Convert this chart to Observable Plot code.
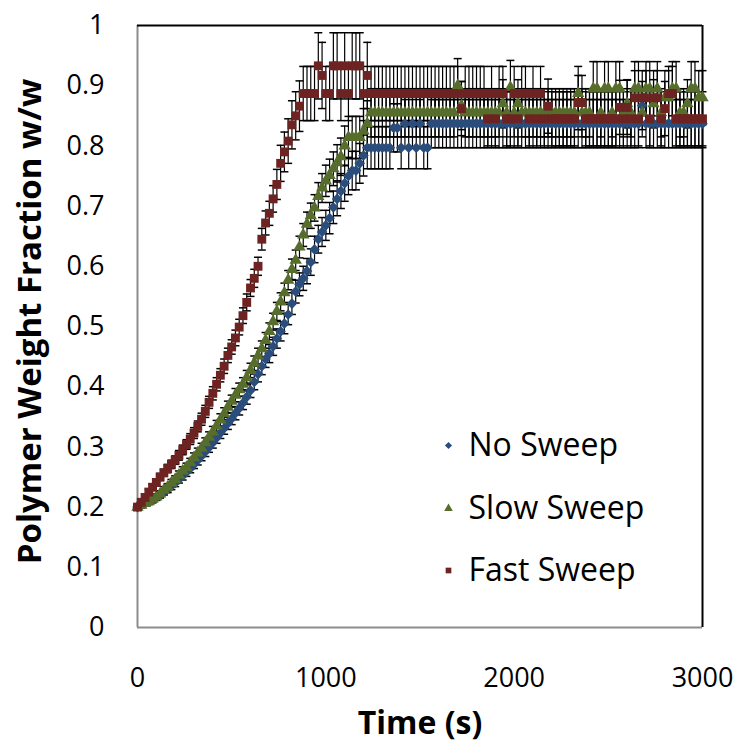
<!DOCTYPE html>
<html>
<head>
<meta charset="utf-8">
<script src="https://cdn.jsdelivr.net/npm/d3@7"></script>
<script src="https://cdn.jsdelivr.net/npm/@observablehq/plot@0.6"></script>
<style>
  html, body { margin: 0; padding: 0; background: #fff; }
  #chart svg { display: block; }
</style>
</head>
<body>
<div id="chart"></div>
<script>
const seriesNames = ["No Sweep", "Slow Sweep", "Fast Sweep"];
const seriesColors = ["#2a4d7c", "#566d2b", "#6d2321"];
const seriesSymbols = ["diamond2", "triangle", "square"];

const xTicks = [0, 1000, 2000, 3000];
const xTickLabels = ["0", "1000", "2000", "3000"];
const yTicks = [0, 0.1, 0.2, 0.3, 0.4, 0.5, 0.6, 0.7, 0.8, 0.9, 1];
const yTickLabels = ["0", "0.1", "0.2", "0.3", "0.4", "0.5", "0.6", "0.7", "0.8", "0.9", "1"];

const time = [
  0, 20, 40, 60, 80, 100, 120, 140, 160, 180,
  200, 220, 240, 260, 280, 300, 320, 340, 360, 380,
  400, 420, 440, 460, 480, 500, 520, 540, 560, 580,
  600, 620, 640, 660, 680, 700, 720, 740, 760, 780,
  800, 820, 840, 860, 880, 900, 920, 940, 960, 980,
  1000, 1020, 1040, 1060, 1080, 1100, 1120, 1140, 1160, 1180,
  1200, 1220, 1240, 1260, 1280, 1300, 1320, 1340, 1360, 1380,
  1400, 1420, 1440, 1460, 1480, 1500, 1520, 1540, 1560, 1580,
  1600, 1620, 1640, 1660, 1680, 1700, 1720, 1740, 1760, 1780,
  1800, 1820, 1840, 1860, 1880, 1900, 1920, 1940, 1960, 1980,
  2000, 2020, 2040, 2060, 2080, 2100, 2120, 2140, 2160, 2180,
  2200, 2220, 2240, 2260, 2280, 2300, 2320, 2340, 2360, 2380,
  2400, 2420, 2440, 2460, 2480, 2500, 2520, 2540, 2560, 2580,
  2600, 2620, 2640, 2660, 2680, 2700, 2720, 2740, 2760, 2780,
  2800, 2820, 2840, 2860, 2880, 2900, 2920, 2940, 2960, 2980,
  3000
];

const noSweep = [
  0.200, 0.203, 0.206, 0.209, 0.212, 0.216, 0.220, 0.225, 0.230, 0.235,
  0.240, 0.246, 0.252, 0.258, 0.264, 0.271, 0.278, 0.285, 0.292, 0.299,
  0.307, 0.315, 0.323, 0.331, 0.339, 0.347, 0.356, 0.364, 0.373, 0.383,
  0.394, 0.408, 0.421, 0.434, 0.446, 0.455, 0.467, 0.480, 0.492, 0.505,
  0.520, 0.538, 0.558, 0.570, 0.580, 0.592, 0.607, 0.628, 0.645, 0.657,
  0.668, 0.680, 0.698, 0.712, 0.725, 0.738, 0.750, 0.759, 0.759, 0.771,
  0.784, 0.797, 0.797, 0.797, 0.797, 0.797, 0.797, 0.797, 0.830, 0.830,
  0.797, 0.837, 0.797, 0.837, 0.797, 0.837, 0.797, 0.797, 0.837, 0.837,
  0.837, 0.837, 0.837, 0.837, 0.837, 0.837, 0.837, 0.837, 0.837, 0.837,
  0.837, 0.837, 0.837, 0.837, 0.837, 0.837, 0.837, 0.837, 0.837, 0.837,
  0.837, 0.837, 0.837, 0.837, 0.837, 0.837, 0.837, 0.837, 0.837, 0.837,
  0.837, 0.837, 0.837, 0.837, 0.837, 0.837, 0.837, 0.837, 0.837, 0.837,
  0.837, 0.837, 0.837, 0.837, 0.837, 0.837, 0.837, 0.837, 0.837, 0.837,
  0.837, 0.837, 0.837, 0.837, 0.867, 0.837, 0.837, 0.837, 0.837, 0.837,
  0.837, 0.837, 0.837, 0.837, 0.837, 0.837, 0.837, 0.837, 0.837, 0.837,
  0.837
];
const noSweepErr = [
  0.004, 0.004, 0.004, 0.004, 0.005, 0.005, 0.005, 0.005, 0.006, 0.006,
  0.006, 0.006, 0.007, 0.007, 0.007, 0.007, 0.008, 0.008, 0.008, 0.008,
  0.009, 0.009, 0.009, 0.010, 0.010, 0.010, 0.011, 0.011, 0.011, 0.012,
  0.012, 0.013, 0.013, 0.014, 0.014, 0.015, 0.015, 0.016, 0.016, 0.017,
  0.017, 0.018, 0.019, 0.019, 0.020, 0.021, 0.022, 0.022, 0.023, 0.024,
  0.025, 0.026, 0.027, 0.028, 0.029, 0.030, 0.031, 0.032, 0.032, 0.033,
  0.034, 0.035, 0.035, 0.035, 0.035, 0.035, 0.035, 0.035, 0.040, 0.040,
  0.035, 0.040, 0.035, 0.040, 0.035, 0.040, 0.035, 0.035, 0.040, 0.040,
  0.040, 0.040, 0.040, 0.040, 0.040, 0.040, 0.040, 0.040, 0.040, 0.040,
  0.040, 0.040, 0.040, 0.040, 0.040, 0.040, 0.040, 0.040, 0.040, 0.040,
  0.040, 0.040, 0.040, 0.040, 0.040, 0.040, 0.040, 0.040, 0.040, 0.040,
  0.040, 0.040, 0.040, 0.040, 0.040, 0.040, 0.040, 0.040, 0.040, 0.040,
  0.040, 0.040, 0.040, 0.040, 0.040, 0.040, 0.040, 0.040, 0.040, 0.040,
  0.040, 0.040, 0.040, 0.040, 0.040, 0.040, 0.040, 0.040, 0.040, 0.040,
  0.040, 0.040, 0.040, 0.040, 0.040, 0.040, 0.040, 0.040, 0.040, 0.040,
  0.040
];

const slowSweep = [
  0.200, 0.203, 0.206, 0.209, 0.213, 0.217, 0.222, 0.228, 0.233, 0.240,
  0.246, 0.253, 0.260, 0.266, 0.274, 0.282, 0.290, 0.298, 0.307, 0.316,
  0.325, 0.335, 0.345, 0.355, 0.366, 0.376, 0.386, 0.395, 0.404, 0.415,
  0.427, 0.439, 0.451, 0.463, 0.477, 0.492, 0.508, 0.525, 0.541, 0.556,
  0.577, 0.595, 0.610, 0.632, 0.652, 0.670, 0.684, 0.697, 0.716, 0.730,
  0.742, 0.751, 0.762, 0.772, 0.782, 0.800, 0.814, 0.814, 0.814, 0.814,
  0.825, 0.837, 0.855, 0.855, 0.855, 0.855, 0.855, 0.855, 0.855, 0.855,
  0.855, 0.855, 0.855, 0.855, 0.855, 0.855, 0.855, 0.855, 0.855, 0.855,
  0.855, 0.855, 0.855, 0.855, 0.855, 0.900, 0.867, 0.855, 0.855, 0.855,
  0.855, 0.855, 0.855, 0.855, 0.855, 0.855, 0.855, 0.870, 0.855, 0.897,
  0.855, 0.870, 0.855, 0.855, 0.855, 0.855, 0.855, 0.855, 0.855, 0.855,
  0.855, 0.855, 0.855, 0.855, 0.855, 0.855, 0.855, 0.887, 0.855, 0.855,
  0.855, 0.895, 0.895, 0.855, 0.895, 0.895, 0.855, 0.895, 0.895, 0.855,
  0.870, 0.855, 0.895, 0.895, 0.855, 0.895, 0.895, 0.870, 0.895, 0.855,
  0.880, 0.880, 0.895, 0.895, 0.855, 0.855, 0.870, 0.895, 0.895, 0.880,
  0.880
];
const slowSweepErr = [
  0.004, 0.004, 0.004, 0.005, 0.005, 0.005, 0.005, 0.006, 0.006, 0.006,
  0.006, 0.007, 0.007, 0.007, 0.007, 0.008, 0.008, 0.008, 0.008, 0.009,
  0.009, 0.009, 0.010, 0.010, 0.010, 0.010, 0.011, 0.011, 0.011, 0.012,
  0.012, 0.012, 0.013, 0.013, 0.013, 0.014, 0.014, 0.015, 0.015, 0.016,
  0.016, 0.017, 0.017, 0.018, 0.019, 0.020, 0.021, 0.022, 0.023, 0.024,
  0.026, 0.027, 0.028, 0.030, 0.031, 0.033, 0.035, 0.035, 0.035, 0.035,
  0.037, 0.038, 0.040, 0.040, 0.040, 0.040, 0.040, 0.040, 0.040, 0.040,
  0.040, 0.040, 0.040, 0.040, 0.040, 0.040, 0.040, 0.040, 0.040, 0.040,
  0.040, 0.040, 0.040, 0.040, 0.040, 0.045, 0.040, 0.040, 0.040, 0.040,
  0.040, 0.040, 0.040, 0.040, 0.040, 0.040, 0.040, 0.040, 0.040, 0.045,
  0.040, 0.040, 0.040, 0.040, 0.040, 0.040, 0.040, 0.040, 0.040, 0.040,
  0.040, 0.040, 0.040, 0.040, 0.040, 0.040, 0.040, 0.045, 0.040, 0.040,
  0.040, 0.045, 0.045, 0.040, 0.045, 0.045, 0.040, 0.045, 0.045, 0.040,
  0.040, 0.040, 0.045, 0.045, 0.040, 0.045, 0.045, 0.040, 0.045, 0.040,
  0.045, 0.045, 0.045, 0.045, 0.040, 0.040, 0.040, 0.045, 0.045, 0.045,
  0.045
];

const fastSweep = [
  0.200, 0.208, 0.216, 0.225, 0.233, 0.241, 0.250, 0.257, 0.264, 0.271,
  0.278, 0.286, 0.295, 0.304, 0.313, 0.323, 0.334, 0.346, 0.359, 0.374,
  0.389, 0.404, 0.419, 0.434, 0.452, 0.466, 0.481, 0.499, 0.518, 0.540,
  0.564, 0.580, 0.600, 0.645, 0.672, 0.688, 0.712, 0.736, 0.771, 0.790,
  0.808, 0.835, 0.850, 0.866, 0.887, 0.887, 0.887, 0.887, 0.933, 0.917,
  0.887, 0.887, 0.933, 0.933, 0.887, 0.933, 0.887, 0.933, 0.933, 0.933,
  0.887, 0.917, 0.887, 0.887, 0.887, 0.887, 0.887, 0.887, 0.887, 0.887,
  0.887, 0.887, 0.887, 0.887, 0.887, 0.887, 0.887, 0.887, 0.887, 0.887,
  0.887, 0.887, 0.887, 0.887, 0.887, 0.887, 0.862, 0.887, 0.887, 0.887,
  0.887, 0.887, 0.887, 0.845, 0.887, 0.845, 0.887, 0.887, 0.845, 0.845,
  0.887, 0.845, 0.887, 0.887, 0.845, 0.887, 0.845, 0.887, 0.845, 0.866,
  0.845, 0.845, 0.845, 0.845, 0.845, 0.845, 0.845, 0.872, 0.872, 0.845,
  0.845, 0.845, 0.845, 0.845, 0.845, 0.845, 0.845, 0.845, 0.864, 0.845,
  0.864, 0.845, 0.880, 0.845, 0.880, 0.880, 0.845, 0.880, 0.880, 0.845,
  0.862, 0.887, 0.887, 0.845, 0.845, 0.845, 0.845, 0.845, 0.845, 0.845,
  0.845
];
const fastSweepErr = [
  0.004, 0.004, 0.005, 0.005, 0.005, 0.006, 0.006, 0.006, 0.007, 0.007,
  0.007, 0.008, 0.008, 0.008, 0.009, 0.009, 0.009, 0.010, 0.010, 0.010,
  0.011, 0.011, 0.011, 0.012, 0.012, 0.012, 0.013, 0.013, 0.013, 0.014,
  0.014, 0.015, 0.015, 0.018, 0.020, 0.020, 0.022, 0.025, 0.030, 0.033,
  0.037, 0.040, 0.040, 0.042, 0.045, 0.045, 0.045, 0.045, 0.055, 0.055,
  0.045, 0.045, 0.055, 0.055, 0.045, 0.055, 0.045, 0.055, 0.055, 0.055,
  0.045, 0.055, 0.045, 0.045, 0.045, 0.045, 0.045, 0.045, 0.045, 0.045,
  0.045, 0.045, 0.045, 0.045, 0.045, 0.045, 0.045, 0.045, 0.045, 0.045,
  0.045, 0.045, 0.045, 0.045, 0.045, 0.045, 0.045, 0.045, 0.045, 0.045,
  0.045, 0.045, 0.045, 0.045, 0.045, 0.045, 0.045, 0.045, 0.045, 0.045,
  0.045, 0.045, 0.045, 0.045, 0.045, 0.045, 0.045, 0.045, 0.045, 0.045,
  0.045, 0.045, 0.045, 0.045, 0.045, 0.045, 0.045, 0.045, 0.045, 0.045,
  0.045, 0.045, 0.045, 0.045, 0.045, 0.045, 0.045, 0.045, 0.045, 0.045,
  0.045, 0.045, 0.045, 0.045, 0.045, 0.045, 0.045, 0.045, 0.045, 0.045,
  0.045, 0.045, 0.045, 0.045, 0.045, 0.045, 0.045, 0.045, 0.045, 0.045,
  0.045
];

const seriesValues = [noSweep, slowSweep, fastSweep];
const seriesErrors = [noSweepErr, slowSweepErr, fastSweepErr];

// Build long table
const rows = [];
seriesValues.forEach((vals, s) => {
  vals.forEach((v, i) => {
    rows.push({series: seriesNames[s], si: s, t: time[i], v, e: seriesErrors[s][i]});
  });
});

const capSymbol = {
  draw(context, size) {
    const r = Math.sqrt(size / Math.PI);
    context.moveTo(-r, 0);
    context.lineTo(r, 0);
  }
};

const markerR = [4.8, 4.6, 5.0];
const legendRowsDy = [420, 483, 545];

const marks = [
  // frame: left & bottom grey, top & right black
  Plot.ruleX([xTicks[0]], {stroke: "#8c8c8c", strokeWidth: 2}),
  Plot.ruleY([yTicks[0]], {stroke: "#8c8c8c", strokeWidth: 2}),
  Plot.ruleY([yTicks[yTicks.length - 1]], {stroke: "#000", strokeWidth: 2}),
  Plot.ruleX([xTicks[xTicks.length - 1]], {stroke: "#000", strokeWidth: 2}),
  // error bars
  Plot.ruleX(rows, {x: "t", y1: d => d.v - d.e, y2: d => d.v + d.e, stroke: "#000", strokeWidth: 1.2}),
  Plot.dot(rows, {x: "t", y: d => d.v + d.e, symbol: capSymbol, r: 4, stroke: "#000", strokeWidth: 1.5, fill: "none"}),
  Plot.dot(rows, {x: "t", y: d => d.v - d.e, symbol: capSymbol, r: 4, stroke: "#000", strokeWidth: 1.5, fill: "none"})
];

// markers per series (drawn in order No, Slow, Fast)
seriesNames.forEach((name, s) => {
  marks.push(Plot.dot(rows.filter(d => d.si === s), {
    x: "t", y: "v", symbol: seriesSymbols[s], r: markerR[s],
    fill: seriesColors[s], stroke: "none"
  }));
});

// legend
seriesNames.forEach((name, s) => {
  marks.push(Plot.dot([name], {frameAnchor: "top-left", dx: 311, dy: legendRowsDy[s], symbol: seriesSymbols[s], r: 3.2, fill: seriesColors[s], stroke: "none"}));
  marks.push(Plot.text([name], {frameAnchor: "top-left", dx: 331, dy: legendRowsDy[s], text: d => d, textAnchor: "start", lineAnchor: "middle", fontSize: 32, fill: "#000"}));
});

// axes
marks.push(Plot.axisX({ticks: xTicks, tickSize: 0, tickPadding: 40, tickFormat: (d, i) => xTickLabels[i], fontSize: 27, label: null}));
marks.push(Plot.axisY({ticks: yTicks, tickSize: 0, tickPadding: 33, tickFormat: (d, i) => yTickLabels[i], fontSize: 27, label: null}));

// axis titles
marks.push(Plot.text(["Time (s)"], {frameAnchor: "bottom", dy: 96, text: d => d, lineAnchor: "middle", textAnchor: "middle", fontSize: 32, fontWeight: "bold", fill: "#000"}));
marks.push(Plot.text(["Polymer Weight Fraction w/w"], {frameAnchor: "left", dx: -107, dy: -5, rotate: -90, text: d => d, textAnchor: "middle", lineAnchor: "middle", fontSize: 33, fontWeight: "bold", fill: "#000"}));

const chart = Plot.plot({
  width: 743,
  height: 744,
  marginLeft: 137,
  marginRight: 41,
  marginTop: 25,
  marginBottom: 117,
  style: {fontFamily: "'Open Sans', sans-serif", background: "#fff", color: "#000"},
  x: {domain: [0, 3000], axis: null},
  y: {domain: [0, 1], axis: null},
  marks
});
document.getElementById("chart").appendChild(chart);
</script>
</body>
</html>
